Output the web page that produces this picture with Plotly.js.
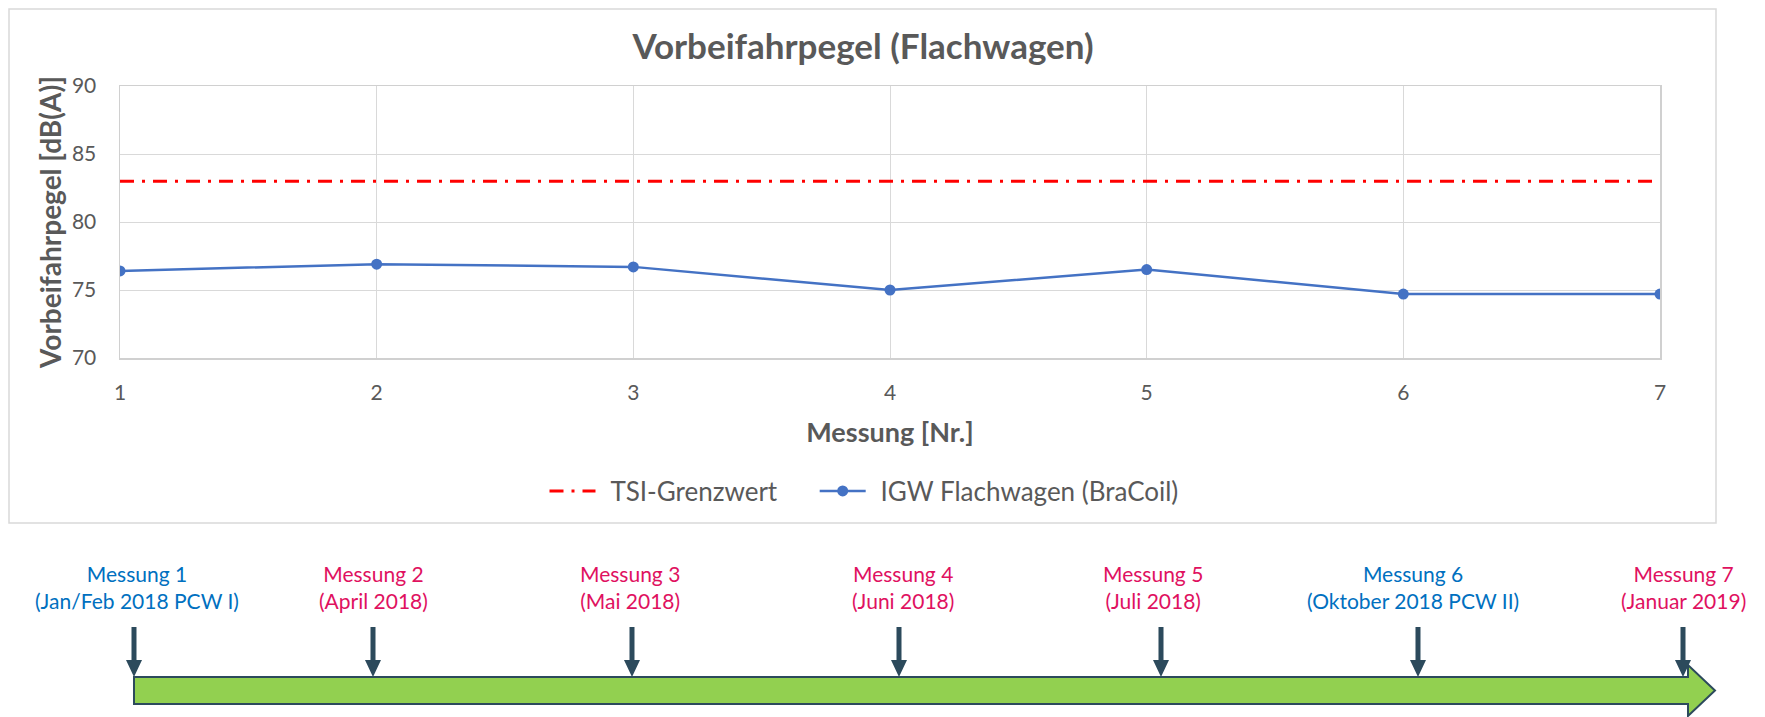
<!DOCTYPE html>
<html>
<head>
<meta charset="utf-8">
<script src="https://cdn.plot.ly/plotly-3.0.1.min.js"></script>
<style>html,body{margin:0;padding:0;background:#fff;}#chart{width:1765px;height:717px;}</style>
</head>
<body>
<div id="chart"></div>
<script>
// ---- data ----
const messungNr = [1, 2, 3, 4, 5, 6, 7];
const igwFlachwagen = [76.4, 76.9, 76.7, 75.0, 76.5, 74.7, 74.7];
const tsiGrenzwert = [83, 83, 83, 83, 83, 83, 83];
const seriesNames = ["TSI-Grenzwert", "IGW Flachwagen (BraCoil)"];
const timelineTitles = ["Messung 1", "Messung 2", "Messung 3", "Messung 4", "Messung 5", "Messung 6", "Messung 7"];
const timelineDates = ["(Jan/Feb 2018 PCW I)", "(April 2018)", "(Mai 2018)", "(Juni 2018)", "(Juli 2018)", "(Oktober 2018 PCW II)", "(Januar 2019)"];
const timelinePcw = [true, false, false, false, false, true, false];

// ---- layout geometry (pixels) ----
const FW = 1765, FH = 717;
const L = 120, R = 1660, T = 86, B = 358;
const W = R - L, H = B - T;
const px = x => (x - L) / W;
const py = y => (B - y) / H;

const labelX = [137, 373, 630, 903, 1153, 1413, 1683];
const arrowX = [134, 373, 632, 899, 1161, 1418, 1683];

const FONT = 'Lato, "Open Sans", sans-serif';
const GREY = '#595959';

const shapes = [];
// chart border
shapes.push({type: 'rect', xref: 'paper', yref: 'paper', x0: px(9), x1: px(1716), y0: py(9), y1: py(523),
  line: {color: '#d9d9d9', width: 1.5}, fillcolor: 'rgba(0,0,0,0)', layer: 'below'});

function pathOf(pts) {
  return 'M' + pts.map(p => px(p[0]).toFixed(5) + ',' + py(p[1]).toFixed(5)).join(' L') + ' Z';
}
// green timeline arrow
shapes.push({type: 'path', xref: 'paper', yref: 'paper',
  path: pathOf([[134, 677], [1688, 677], [1688, 665], [1715, 690.5], [1688, 716], [1688, 704], [134, 704]]),
  fillcolor: '#92D050', line: {color: '#2C4A5C', width: 2}});
// down arrows
arrowX.forEach(x => {
  shapes.push({type: 'path', xref: 'paper', yref: 'paper',
    path: pathOf([[x - 2.5, 627], [x + 2.5, 627], [x + 2.5, 660], [x + 8, 660], [x, 677], [x - 8, 660], [x - 2.5, 660]]),
    fillcolor: '#2C4A5C', line: {width: 0}});
});

const annotations = timelineTitles.map((t, i) => ({
  xref: 'paper', yref: 'paper', x: px(labelX[i]), y: py(587), xanchor: 'center', yanchor: 'middle',
  text: t + '<br>' + timelineDates[i], showarrow: false, align: 'center',
  font: {family: FONT, size: 21, color: timelinePcw[i] ? '#0070C0' : '#E0115F'}
}));

const LEAD = '\u00A0\u2009';
const traces = [
  {x: messungNr, y: tsiGrenzwert, name: LEAD + seriesNames[0] + '\u2003\u2002', mode: 'lines',
   line: {color: '#FF0000', width: 3, dash: '14px,8px,3px,8px'}},
  {x: messungNr, y: igwFlachwagen, name: LEAD + seriesNames[1], mode: 'lines+markers',
   line: {color: '#4472C4', width: 2.5}, marker: {color: '#4472C4', size: 11}}
];

const layout = {
  width: FW, height: FH,
  margin: {l: L, r: FW - R, t: T, b: FH - B, pad: 0},
  paper_bgcolor: '#ffffff', plot_bgcolor: '#ffffff',
  font: {family: FONT, color: GREY, size: 21},
  title: {text: 'Vorbeifahrpegel (Flachwagen)', x: px(863), xref: 'paper', xanchor: 'center',
          y: 1 - 47 / FH, yanchor: 'middle', yref: 'container',
          font: {family: FONT, size: 35, color: GREY, weight: 'bold'}},
  xaxis: {range: [1, 7], dtick: 1, tick0: 1, showgrid: true, gridcolor: '#d9d9d9', gridwidth: 1,
          showline: true, linecolor: '#d0d0d0', linewidth: 1.5, mirror: true, zeroline: false,
          ticks: '', ticklabelstandoff: 15, tickfont: {family: FONT, size: 21, color: GREY},
          title: {text: 'Messung [Nr.]', standoff: 20, font: {family: FONT, size: 27, color: GREY, weight: 'bold'}},
          fixedrange: true},
  yaxis: {range: [70, 90], dtick: 5, tick0: 70, showgrid: true, gridcolor: '#d9d9d9', gridwidth: 1,
          showline: true, linecolor: '#d0d0d0', linewidth: 1.5, mirror: true, zeroline: false,
          ticks: '', ticklabelstandoff: 18, tickfont: {family: FONT, size: 21, color: GREY},
          title: {text: 'Vorbeifahrpegel [dB(A)]', standoff: 2, font: {family: FONT, size: 28, color: GREY, weight: 'bold'}},
          fixedrange: true},
  showlegend: true,
  legend: {orientation: 'h', x: px(864), xanchor: 'center', y: py(491), yanchor: 'middle',
           font: {family: FONT, size: 26, color: GREY}, itemwidth: 46, tracegroupgap: 0,
           bgcolor: 'rgba(0,0,0,0)'},
  shapes: shapes,
  annotations: annotations
};

Plotly.newPlot('chart', traces, layout, {displayModeBar: false, staticPlot: true});
</script>
</body>
</html>
